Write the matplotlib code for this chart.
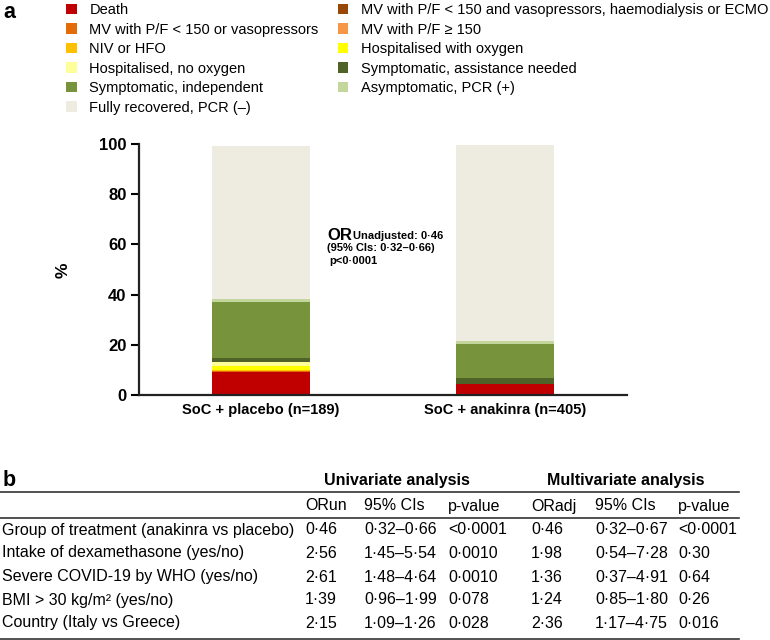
import matplotlib
matplotlib.use("Agg")
import matplotlib.pyplot as plt
from matplotlib.patches import Patch
from matplotlib.lines import Line2D

plt.rcParams['font.family'] = ['Liberation Sans', 'DejaVu Sans']

# ---------------- data ----------------
groups = ["SoC + placebo (n=189)", "SoC + anakinra (n=405)"]
categories = [
    "Death",
    "MV with P/F < 150 and vasopressors, haemodialysis or ECMO",
    "MV with P/F < 150 or vasopressors",
    "MV with P/F \u2265 150",
    "NIV or HFO",
    "Hospitalised with oxygen",
    "Hospitalised, no oxygen",
    "Symptomatic, assistance needed",
    "Symptomatic, independent",
    "Asymptomatic, PCR (+)",
    "Fully recovered, PCR (\u2013)",
]
colors = ["#C00000", "#974706", "#E36C09", "#F79646", "#FFC000", "#FFFF00",
          "#FFFF99", "#4F6228", "#77933C", "#C3D69B", "#EEECE1"]
placebo = [9.2, 0.0, 0.3, 0.0, 0.5, 1.6, 1.4, 1.75, 22.2, 1.1, 61.25]
anakinra = [4.5, 0.0, 0.0, 0.0, 0.0, 0.0, 0.0, 2.4, 13.4, 1.1, 78.4]
yticks = [0, 20, 40, 60, 80, 100]

row_labels = ["Group of treatment (anakinra vs placebo)",
              "Intake of dexamethasone (yes/no)",
              "Severe COVID-19 by WHO (yes/no)",
              "BMI > 30 kg/m\u00b2 (yes/no)",
              "Country (Italy vs Greece)"]
col_headers = ["ORun", "95% CIs", "p-value", "ORadj", "95% CIs", "p-value"]
or_un = ["0\u00b746", "2\u00b756", "2\u00b761", "1\u00b739", "2\u00b715"]
ci_un = ["0\u00b732\u20130\u00b766", "1\u00b745\u20135\u00b754", "1\u00b748\u20134\u00b764",
         "0\u00b796\u20131\u00b799", "1\u00b709\u20131\u00b726"]
p_un = ["<0\u00b70001", "0\u00b70010", "0\u00b70010", "0\u00b7078", "0\u00b7028"]
or_adj = ["0\u00b746", "1\u00b798", "1\u00b736", "1\u00b724", "2\u00b736"]
ci_adj = ["0\u00b732\u20130\u00b767", "0\u00b754\u20137\u00b728", "0\u00b737\u20134\u00b791",
          "0\u00b785\u20131\u00b780", "1\u00b717\u20134\u00b775"]
p_adj = ["<0\u00b70001", "0\u00b730", "0\u00b764", "0\u00b726", "0\u00b7016"]

# ---------------- figure ----------------
W, H = 770, 640
fig = plt.figure(figsize=(W / 100, H / 100), dpi=100)


def fx(px):
    return px / W


def fy(py):
    return 1 - py / H


ax = fig.add_axes([fx(139), fy(395), fx(627 - 139), (395 - 144) / H])

x = [0, 1]
bottoms = [0.0, 0.0]
handles = []
for i, cat in enumerate(categories):
    vals = [placebo[i], anakinra[i]]
    ax.bar(x, vals, width=0.4, bottom=bottoms, color=colors[i], edgecolor='none', linewidth=0)
    bottoms = [b + v for b, v in zip(bottoms, vals)]
    handles.append(Patch(facecolor=colors[i], edgecolor='none', label=cat))

ax.set_xlim(-0.5, 1.5)
ax.set_ylim(0, 100)
ax.set_yticks(yticks)
ax.set_yticklabels([str(t) for t in yticks], fontsize=12, fontweight='bold')
ax.set_xticks(x)
ax.set_xticklabels(groups, fontsize=10.5, fontweight='bold')
ax.tick_params(axis='x', length=0, pad=6)
ax.tick_params(axis='y', length=6, width=1.5, pad=3)
for s in ['top', 'right']:
    ax.spines[s].set_visible(False)
for s in ['left', 'bottom']:
    ax.spines[s].set_linewidth(1.6)
    ax.spines[s].set_color('#222222')

fig.text(fx(63), fy(270), "%", rotation=90, ha='center', va='center',
         fontsize=12.5, fontweight='bold')

# annotation
fig.text(fx(327), fy(235), "OR", ha='left', va='center', fontsize=12, fontweight='bold')
fig.text(fx(353), fy(236), "Unadjusted: 0\u00b746", ha='left', va='center', fontsize=8, fontweight='bold')
fig.text(fx(327), fy(248), "(95% CIs: 0\u00b732\u20130\u00b766)", ha='left', va='center',
         fontsize=8, fontweight='bold')
fig.text(fx(329), fy(261), "p<0\u00b70001", ha='left', va='center', fontsize=8, fontweight='bold')

# legend (row-major order)
order = [0, 2, 4, 6, 8, 10, 1, 3, 5, 7, 9]
fig.legend([handles[k] for k in order], [categories[k] for k in order],
           ncol=2, loc='upper left', bbox_to_anchor=(fx(66), fy(3)),
           frameon=False, fontsize=10.5, handlelength=0.75, handleheight=0.75,
           handletextpad=0.85, columnspacing=1.3, labelspacing=0.38, borderpad=0,
           borderaxespad=0)

# panel labels
fig.text(fx(3), fy(13), "a", ha='left', va='center', fontsize=15.5, fontweight='bold')
fig.text(fx(3), fy(480), "b", ha='left', va='center', fontsize=15.5, fontweight='bold')

# ---------------- table ----------------
tfs = 11.5
fig.text(fx(397), fy(480), "Univariate analysis", ha='center', va='center',
         fontsize=tfs, fontweight='bold')
fig.text(fx(626), fy(480), "Multivariate analysis", ha='center', va='center',
         fontsize=tfs, fontweight='bold')

for ypx in [492, 518, 639]:
    fig.add_artist(Line2D([fx(0), fx(739)], [fy(ypx), fy(ypx)], color='#333333', lw=1.2))

col_x = [305, 364, 448, 531, 595, 678]
for cx, h in zip(col_x, col_headers):
    fig.text(fx(cx), fy(506), h, ha='left', va='center', fontsize=tfs)

row_y = [530, 553, 577, 600, 623]
cols = [or_un, ci_un, p_un, or_adj, ci_adj, p_adj]
for r, ry in enumerate(row_y):
    fig.text(fx(2), fy(ry), row_labels[r], ha='left', va='center', fontsize=tfs)
    for cx, col in zip(col_x, cols):
        fig.text(fx(cx), fy(ry), col[r], ha='left', va='center', fontsize=tfs)

fig.savefig("out.png", dpi=100)
